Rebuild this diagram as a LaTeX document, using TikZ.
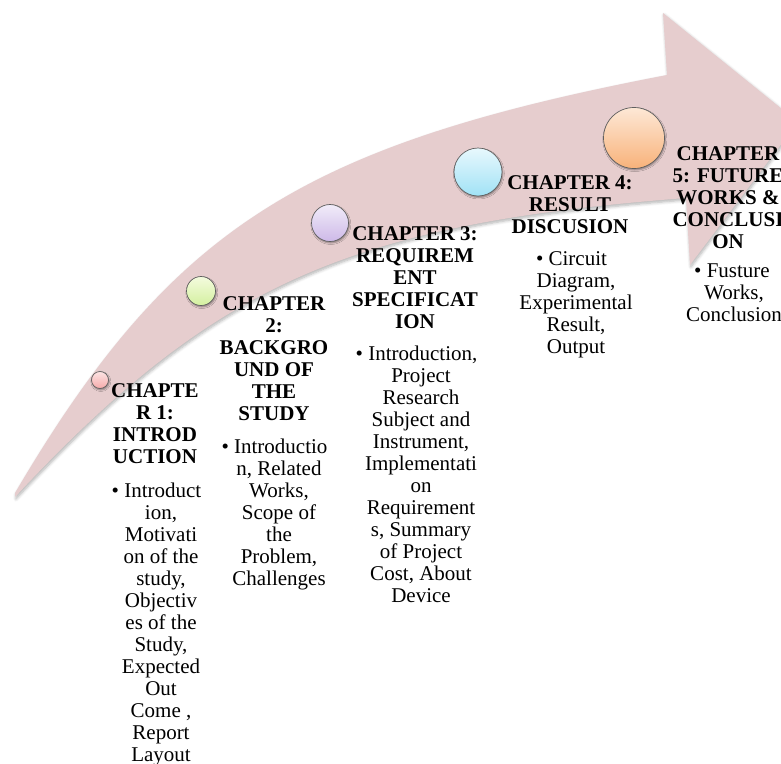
\documentclass[tikz,border=0pt]{standalone}
\usepackage{fontspec}
\setmainfont{Liberation Serif}
\usetikzlibrary{shadows.blur}
\definecolor{bandpink}{RGB}{230,205,206}
\definecolor{ringgray}{RGB}{95,95,95}
\definecolor{pinkA}{RGB}{253,228,228}\definecolor{pinkB}{RGB}{245,170,170}
\definecolor{greenA}{RGB}{244,251,222}\definecolor{greenB}{RGB}{212,240,160}
\definecolor{purpA}{RGB}{242,236,249}\definecolor{purpB}{RGB}{205,185,232}
\definecolor{blueA}{RGB}{232,248,253}\definecolor{blueB}{RGB}{160,226,246}
\definecolor{oranA}{RGB}{253,232,214}\definecolor{oranB}{RGB}{248,178,122}
\tikzset{
  band/.style={fill=bandpink, draw=none,
    blur shadow={shadow xshift=1pt, shadow yshift=-2pt, shadow blur steps=6,
                 shadow blur radius=3pt, shadow opacity=30}},
  dot/.style={circle, draw=ringgray, line width=0.7pt, inner sep=0pt,
    blur shadow={shadow xshift=0.8pt, shadow yshift=-1.5pt,
                 shadow blur radius=1.5pt, shadow opacity=40}},
  headtxt/.style={font=\fontsize{21}{22}\selectfont\bfseries, anchor=base, inner sep=0pt},
  bodytxt/.style={font=\fontsize{21}{22}\selectfont, anchor=base, inner sep=0pt},
}
\newcommand{\blines}[1]{\begin{tabular}[t]{@{}c@{}}#1\end{tabular}}
\newcommand{\bul}{\textbullet\ }
\begin{document}
\begin{tikzpicture}[x=1pt,y=-1pt]
\useasboundingbox (0,0) rectangle (781,763);
% curved arrow
\path[band] (15,493) .. controls (171,228) and (301,145) .. (667,75)
  -- (663,13) -- (798,122) -- (690,265) -- (686,198)
  .. controls (348,224) and (214,284) .. (15,497) -- cycle;
% circles
\node[dot, minimum size=17pt, top color=pinkA, bottom color=pinkB] (c1) at (100,380) {};
\node[dot, minimum size=29pt, top color=greenA, bottom color=greenB] (c2) at (201,291) {};
\node[dot, minimum size=37pt, top color=purpA, bottom color=purpB] (c3) at (330,223) {};
\node[dot, minimum size=48pt, top color=blueA, bottom color=blueB] (c4) at (478,172) {};
\node[dot, minimum size=61pt, top color=oranA, bottom color=oranB] (c5) at (634,138) {};
% chapter 1
\node[headtxt] (h1) at (155,397) {\blines{CHAPTE\\R 1:\\INTROD\\UCTION}};
\node[bodytxt] (b1) at (161,497) {\blines{\bul Introduct\hspace*{9pt}\\ion,\\Motivati\\on of the\\study,\\Objectiv\\es of the\\Study,\\Expected\\Out\\Come ,\\Report\\Layout}};
% chapter 2
\node[headtxt] (h2) at (274,310) {\blines{CHAPTER\\2:\\BACKGRO\\UND OF\\THE\\STUDY}};
\node[bodytxt] (b2) at (279,453) {\blines{\bul Introductio\hspace*{9pt}\\n, Related\\Works,\\Scope of\\the\\Problem,\\Challenges}};
% chapter 3
\node[headtxt] (h3) at (415,240) {\blines{CHAPTER 3:\\REQUIREM\\ENT\\SPECIFICAT\\ION}};
\node[bodytxt] (b3) at (421,360) {\blines{\bul Introduction,\hspace*{9pt}\\Project\\Research\\Subject and\\Instrument,\\Implementati\\on\\Requirement\\s, Summary\\of Project\\Cost, About\\Device}};
% chapter 4
\node[headtxt] (h4) at (570,189) {\blines{CHAPTER 4:\\RESULT\\DISCUSION}};
\node[bodytxt] (b4) at (576,265) {\blines{\bul Circuit\hspace*{9pt}\\Diagram,\\Experimental\\Result,\\Output}};
% chapter 5
\node[headtxt] (h5) at (728,160) {\blines{CHAPTER\\5: FUTURE\\WORKS \&\\CONCLUSI\\ON}};
\node[bodytxt] (b5) at (734,277) {\blines{\bul Fusture\hspace*{4pt}\\Works,\\Conclusion}};
\end{tikzpicture}
\end{document}
